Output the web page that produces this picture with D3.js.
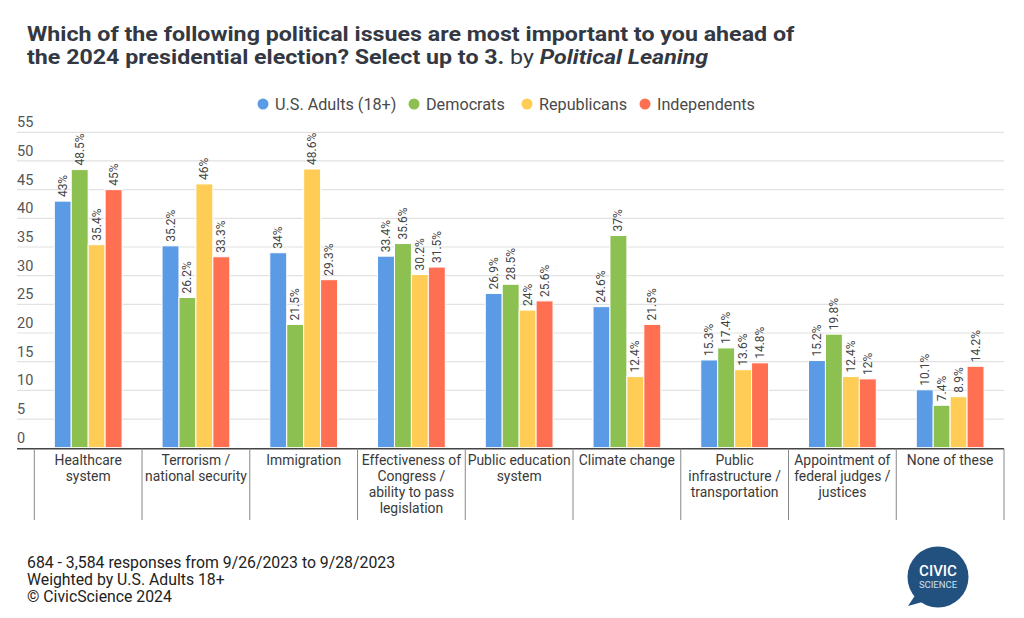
<!DOCTYPE html>
<html>
<head>
<meta charset="utf-8">
<script src="https://cdn.jsdelivr.net/npm/d3@7"></script>
<style>
  html, body { margin: 0; padding: 0; background: #fff; }
  svg { display: block; font-family: Roboto, "Noto Sans", sans-serif; }
</style>
</head>
<body>
<svg id="chart" width="1024" height="618"></svg>
<script>
// ---- data ----
const categories = [
  ["Healthcare", "system"],
  ["Terrorism /", "national security"],
  ["Immigration"],
  ["Effectiveness of", "Congress /", "ability to pass", "legislation"],
  ["Public education", "system"],
  ["Climate change"],
  ["Public", "infrastructure /", "transportation"],
  ["Appointment of", "federal judges /", "justices"],
  ["None of these"]
];
const seriesNames = ["U.S. Adults (18+)", "Democrats", "Republicans", "Independents"];
const seriesColors = ["#5b9be6", "#8cc152", "#ffcd55", "#ff7052"];
const usAdults     = [43, 35.2, 34, 33.4, 26.9, 24.6, 15.3, 15.2, 10.1];
const democrats    = [48.5, 26.2, 21.5, 35.6, 28.5, 37.0, 17.4, 19.8, 7.4];
const republicans  = [35.4, 46, 48.6, 30.2, 24.0, 12.4, 13.6, 12.4, 8.9];
const independents = [45, 33.3, 29.3, 31.5, 25.6, 21.5, 14.8, 12.0, 14.2];
const yTicks = [0, 5, 10, 15, 20, 25, 30, 35, 40, 45, 50, 55];
const seriesValues = [usAdults, democrats, republicans, independents];

const svg = d3.select("#chart");

// ---- title ----
const titleG = svg.append("g");
const title = titleG.append("text").attr("x", 0).attr("fill", "#333842")
  .style("font-size", "20px");
const l1 = title.append("tspan").attr("x", 0).attr("y", 41).attr("font-weight", "bold")
  .text("Which of the following political issues are most important to you ahead of");
const l2 = title.append("tspan").attr("x", 0).attr("y", 64.5);
l2.append("tspan").attr("font-weight", "bold").text("the 2024 presidential election? Select up to 3.");
l2.append("tspan").text(" by ");
l2.append("tspan").attr("font-weight", "bold").attr("font-style", "italic").text("Political Leaning");
const l1len = l1.node().getComputedTextLength();
titleG.attr("transform", `translate(27,0) scale(${768 / l1len},1)`);

// ---- legend ----
const legendX = [263, 414, 527, 645];
const legend = svg.append("g");
seriesNames.forEach((name, i) => {
  legend.append("circle").attr("cx", legendX[i]).attr("cy", 104).attr("r", 5.5).attr("fill", seriesColors[i]);
  legend.append("text").attr("x", legendX[i] + 12).attr("y", 109.5)
    .attr("fill", "#4a4a4a").style("font-size", "16.2px").text(name);
});

// ---- scales ----
const x0 = d3.scaleBand().domain(d3.range(categories.length)).range([34.3, 1004]).paddingInner(0).paddingOuter(0);
const x1 = d3.scaleBand().domain(d3.range(seriesNames.length)).range([20, x0.bandwidth() - 20]).padding(0);
const y = d3.scaleLinear().domain([0, 55]).range([447.7, 132.3]);

// ---- grid + y labels ----
const grid = svg.append("g");
yTicks.forEach(t => {
  if (t > 0) {
    grid.append("line").attr("x1", 17).attr("x2", 1004).attr("y1", y(t)).attr("y2", y(t))
      .attr("stroke", "#e2e2e2").attr("stroke-width", 1.2);
  }
  grid.append("text").attr("x", 17).attr("y", y(t) - 5).attr("fill", "#555")
    .style("font-size", "14.5px").text(t);
});

// ---- bars ----
const groups = svg.append("g").selectAll("g").data(categories).join("g")
  .attr("transform", (d, i) => `translate(${x0(i)},0)`);
groups.each(function(d, ci) {
  const g = d3.select(this);
  seriesValues.forEach((vals, si) => {
    const v = vals[ci];
    g.append("rect").attr("x", x1(si)).attr("width", x1.bandwidth())
      .attr("y", y(v)).attr("height", y(0) - y(v))
      .attr("fill", seriesColors[si]).attr("stroke", "#fff").attr("stroke-width", 1);
    const lx = x1(si) + x1.bandwidth() / 2 + 4;
    const ly = y(v) - 4;
    g.append("text").attr("transform", `translate(${lx},${ly}) rotate(-90)`)
      .attr("fill", "#444").style("font-size", "12px").text(v + "%");
  });
});

// ---- x axis ----
svg.append("line").attr("x1", 17).attr("x2", 1004).attr("y1", y(0) + 1).attr("y2", y(0) + 1)
  .attr("stroke", "#444").attr("stroke-width", 1.5);
const xAxis = d3.axisBottom(x0).tickSize(0).tickFormat("");
const xg = svg.append("g").attr("transform", `translate(0,${y(0) + 1})`).call(xAxis);
xg.select(".domain").remove();
const seps = d3.range(categories.length + 1).map(i => i === categories.length ? 1004 : x0(i));
seps.forEach(sx => {
  svg.append("line").attr("x1", sx).attr("x2", sx).attr("y1", y(0) + 1).attr("y2", 520)
    .attr("stroke", "#888").attr("stroke-width", 1);
});
categories.forEach((lines, i) => {
  const t = svg.append("text").attr("text-anchor", "middle").attr("fill", "#3a3a3a")
    .style("font-size", "13.9px");
  lines.forEach((ln, k) => {
    t.append("tspan").attr("x", x0(i) + x0.bandwidth() / 2).attr("y", 465 + k * 16).text(ln);
  });
});

// ---- footnote ----
const foot = ["684 - 3,584 responses from 9/26/2023 to 9/28/2023", "Weighted by U.S. Adults 18+", "© CivicScience 2024"];
foot.forEach((f, i) => {
  svg.append("text").attr("x", 27).attr("y", 568 + i * 17).attr("fill", "#222")
    .style("font-size", "15.8px").text(f);
});

// ---- logo ----
const logo = svg.append("g");
logo.append("circle").attr("cx", 938).attr("cy", 577).attr("r", 30.5).attr("fill", "#22507f");
logo.append("path").attr("d", "M916 594 L908 606 L926 601 Z").attr("fill", "#22507f");
logo.append("text").attr("x", 938).attr("y", 576).attr("text-anchor", "middle").attr("fill", "#fff")
  .style("font-size", "15px").attr("font-weight", "500").text("CIVIC");
logo.append("text").attr("x", 938).attr("y", 588).attr("text-anchor", "middle").attr("fill", "#cfe0f0")
  .style("font-size", "9.5px").text("SCIENCE");
</script>
</body>
</html>
